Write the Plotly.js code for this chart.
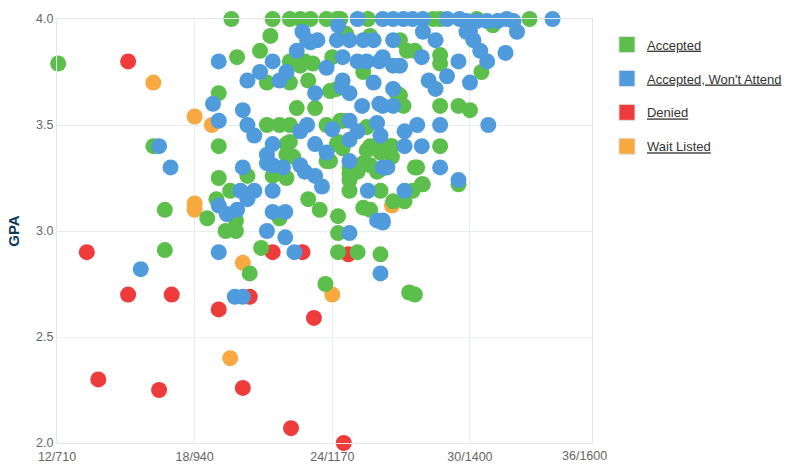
<!DOCTYPE html>
<html>
<head>
<meta charset="utf-8">
<script src="https://cdn.plot.ly/plotly-3.0.1.min.js"></script>
<style>html,body{margin:0;padding:0;background:#fff;}#chart{width:800px;height:467px;}</style>
</head>
<body>
<div id="chart"></div>
<script>
// Categories / legend names
var categories = ["Accepted", "Accepted, Won't Attend", "Denied", "Wait Listed"];

// X tick labels (ACT/SAT)
var xTickVals = [12, 18, 24, 30];
var xTickText = ["12/710", "18/940", "24/1170", "30/1400"];
var xLastLabel = "36/1600";

// Accepted
var acceptedACT = [19.6,21.4,22.15,22.6,23.05,23.75,24.2,24.35,25.55,28.4,28.7,30.3,32.6,
  12.05,16.2,16.7,16.7,19.85,19.05,19.05,19.05,20.3,19.55,18.95,18.55,19.35,19.8,19.8,21.7,20.9,20.4,
  24.25,24.25,25.1,26.1,23.7,27.35,27.6,21.3,20.85,22.15,22.8,23.15,24.0,21.15,22.15,22.95,23.9,24.2,
  22.45,23.25,21.15,21.7,22.15,23.75,24.45,22.0,22.0,22.3,24.2,24.45,23.75,25.5,25.95,21.4,22.0,
  24.75,24.75,25.1,25.65,25.95,22.95,23.45,24.25,25.35,25.65,26.95,27.25,27.6,28.7,28.7,30.5,
  27.1,26.95,28.7,29.5,30.0,26.6,26.6,28.7,27.7,29.5,27.95,27.5,26.1,26.65,27.15,31.0,25.35,22.6,
  26.8,24.35,25.5,22.15,24.25,25.65,26.1,26.5,23.9,24.75,25.35,26.1,27.6,24.75,27.9,25.65,24.6];
var acceptedGPA = [4.0,4.0,4.0,4.0,4.0,4.0,4.0,4.0,4.0,4.0,4.0,4.0,4.0,
  3.79,3.40,3.10,2.91,3.82,3.65,3.40,3.25,3.26,3.19,3.15,3.06,3.00,3.00,3.05,3.06,2.92,2.80,
  2.99,2.90,2.90,2.89,2.75,2.71,2.70,3.92,3.85,3.80,3.80,3.79,3.82,3.70,3.70,3.71,3.66,3.67,
  3.58,3.58,3.50,3.50,3.50,3.50,3.52,3.41,3.36,3.35,3.41,3.39,3.33,3.38,3.39,3.26,3.25,
  3.30,3.24,3.28,3.31,3.28,3.15,3.10,3.07,3.11,3.10,3.90,3.85,3.85,3.83,3.79,3.75,
  3.59,3.64,3.59,3.59,3.57,3.40,3.35,3.40,3.30,3.22,3.22,3.19,3.19,3.14,3.14,3.97,3.75,3.78,
  3.65,3.52,3.49,3.42,3.42,3.40,3.37,3.40,3.33,3.27,3.32,3.29,3.30,3.19,3.22,3.92,3.93];

// Accepted, Won't Attend
var wontAttendACT = [16.45,16.95,15.65,19.05,18.8,19.05,20.1,20.3,20.6,20.1,20.0,20.6,20.3,21.4,
  19.05,19.4,19.85,21.15,21.95,21.4,21.95,19.05,19.75,20.1,22.35,24.75,26.1,
  25.1,26.2,26.65,27.1,27.5,27.95,29.0,29.55,29.85,30.75,31.2,31.6,31.9,33.6,30.3,
  22.7,22.9,23.35,24.25,24.2,24.75,25.35,25.8,21.4,22.45,24.45,25.1,25.5,23.75,20.85,20.3,21.7,22.0,
  24.45,24.75,23.25,25.8,25.3,22.9,22.6,24.0,24.75,25.1,25.95,26.1,21.4,21.15,21.15,23.25,23.75,24.75,
  21.4,21.85,22.6,22.8,23.25,23.55,26.2,25.55,25.95,26.2,27.95,28.5,30.0,30.15,26.65,27.9,29.5,30.45,
  30.75,31.55,32.05,26.2,26.65,26.95,28.2,28.5,29.0,30.0,26.65,26.2,26.65,30.8,28.7,27.7,27.15,27.15,
  27.9,26.4,28.7,29.5,27.15,26.2,23.05,29.85,24.4,26.05,24.75,26.05];
var wontAttendGPA = [3.40,3.30,2.82,3.80,3.60,3.52,3.57,3.50,3.45,3.30,3.19,3.19,3.15,3.19,
  3.12,3.08,3.10,3.00,2.97,3.09,3.09,2.90,2.69,2.69,2.90,2.99,2.80,
  4.0,4.0,4.0,4.0,4.0,4.0,4.0,4.0,3.99,3.99,3.99,4.0,3.99,4.0,3.99,
  3.94,3.90,3.90,3.97,3.90,3.90,3.90,3.90,3.80,3.85,3.82,3.80,3.80,3.77,3.75,3.71,3.71,3.75,
  3.71,3.65,3.65,3.70,3.59,3.50,3.47,3.48,3.52,3.47,3.51,3.45,3.41,3.36,3.32,3.41,3.37,3.33,
  3.31,3.30,3.31,3.28,3.26,3.21,3.30,3.19,3.05,3.05,3.94,3.90,3.94,3.90,3.90,3.82,3.80,3.85,
  3.80,3.84,3.94,3.82,3.78,3.78,3.71,3.67,3.73,3.70,3.67,3.59,3.59,3.50,3.50,3.50,3.47,3.40,
  3.40,3.30,3.30,3.24,3.19,3.04,3.89,3.94,3.68,3.60,3.43,3.80];

// Denied
var deniedACT = [15.1,13.3,13.8,15.1,17.0,16.45,19.05,20.4,20.1,22.2,21.4,23.2,24.5,22.7,24.7];
var deniedGPA = [3.80,2.90,2.30,2.70,2.70,2.25,2.63,2.69,2.26,2.07,2.90,2.59,2.00,2.90,2.89];

// Wait Listed
var waitACT = [16.2,18.0,18.75,18.0,18.0,20.1,19.55,24.0,26.6];
var waitGPA = [3.70,3.54,3.50,3.13,3.10,2.85,2.40,2.70,3.12];

var colors = {"Accepted":"#5CBF4C","Accepted, Won't Attend":"#4F9BDB","Denied":"#EE3B3B","Wait Listed":"#F7A93F"};

function pts(name, xs, ys) {
  return {type:"scatter", mode:"markers", x:xs, y:ys, name:name, showlegend:false,
    cliponaxis:false, hoverinfo:"x+y",
    marker:{size:16, color:colors[name], line:{width:0}}};
}
var traces = [
  pts("Denied", deniedACT, deniedGPA),
  pts("Wait Listed", waitACT, waitGPA),
  pts("Accepted", acceptedACT, acceptedGPA),
  pts("Accepted, Won't Attend", wontAttendACT, wontAttendGPA)
];
categories.forEach(function(c){
  traces.push({type:"scatter", mode:"markers", x:[null], y:[null], name:"<u>"+c+"</u>",
    legendgroup:c, showlegend:true,
    marker:{symbol:"square", size:17, color:colors[c], line:{width:1, color:"#dddddd"}}});
});

var layout = {
  width:800, height:467,
  margin:{l:57, r:208, t:19, b:24, pad:0},
  paper_bgcolor:"#ffffff", plot_bgcolor:"#ffffff",
  font:{family:"Liberation Sans, Arial, sans-serif", size:12, color:"#666666"},
  xaxis:{range:[12, 35.32], tickmode:"array", tickvals:xTickVals, ticktext:xTickText,
    showgrid:true, gridcolor:"#e8edf0", gridwidth:1, zeroline:false,
    showline:true, mirror:true, linecolor:"#e3e8ec", linewidth:1, ticklabelstandoff:2,
    ticks:"", tickfont:{size:12.5, color:"#666666"}, fixedrange:true},
  yaxis:{range:[2, 4], tickvals:[2,2.5,3,3.5,4], ticktext:["2.0","2.5","3.0","3.5","4.0"],
    showgrid:true, gridcolor:"#e8edf0", gridwidth:1, zeroline:false,
    showline:true, mirror:true, linecolor:"#e3e8ec", linewidth:1,
    ticks:"", tickfont:{size:12.5, color:"#666666"}, fixedrange:true,
    title:{text:"<b>GPA</b>", font:{size:15, color:"#0e3a5a"}, standoff:12}},
  legend:{x:1.028, y:0.975, xanchor:"left", yanchor:"top", traceorder:"grouped",
    tracegroupgap:14, font:{size:13, color:"#333333"}, bgcolor:"rgba(0,0,0,0)", itemclick:false},
  annotations:[{text:xLastLabel, x:35.32, xref:"x", y:0, yref:"paper", xanchor:"center",
    yanchor:"top", xshift:-8, yshift:-4, showarrow:false, font:{size:12.5, color:"#666666"}}],
  showlegend:true
};
Plotly.newPlot("chart", traces, layout, {displayModeBar:false, staticPlot:true});
</script>
</body>
</html>
